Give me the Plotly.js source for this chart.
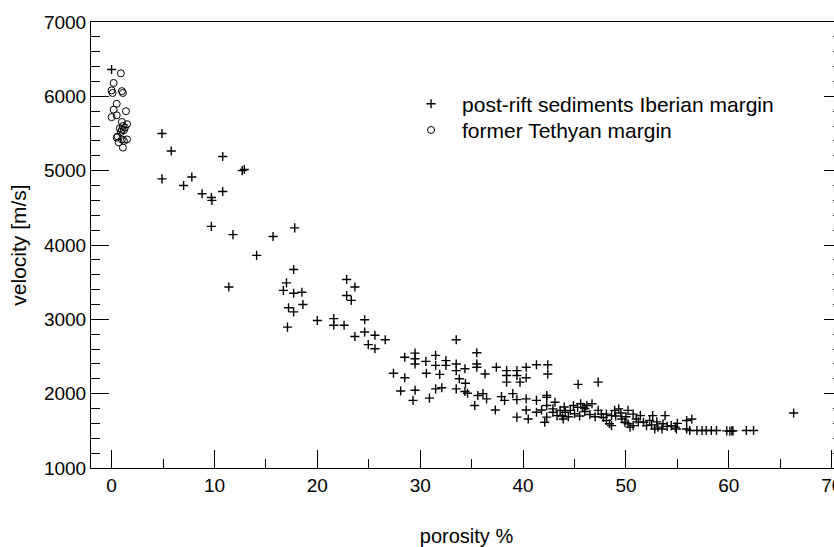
<!DOCTYPE html>
<html>
<head>
<meta charset="utf-8">
<script src="https://cdn.plot.ly/plotly-3.0.1.min.js"></script>
<style>
html,body{margin:0;padding:0;overflow:hidden;background:#fff;}
#chart{width:860px;height:547px;}
</style>
</head>
<body>
<div id="chart"></div>
<script>
// post-rift sediments Iberian margin (porosity %, velocity m/s)
const riftPorosity = [
  0.0, 4.9, 5.8, 10.8, 12.7, 12.9, 4.9, 7.8, 7.0, 8.8, 9.7, 9.75, 10.8, 9.7, 11.8, 15.7, 14.1, 11.4,
  17.8, 17.7, 17.0, 16.7, 17.7, 18.5, 18.6, 17.2, 17.7, 17.1, 20.0, 21.6, 21.6, 22.6, 22.85, 23.65,
  22.85, 23.3, 24.6, 23.65, 24.6, 25.6, 26.6, 24.95, 25.6,
  33.5, 28.5, 29.5, 29.5, 29.5, 30.55, 31.5, 31.5, 32.5, 32.5, 33.5, 34.35, 35.5, 35.5, 35.5, 36.3,
  37.4, 38.4, 39.4, 40.3, 41.3, 42.4, 42.4, 27.4, 28.5, 30.6, 31.9, 33.5, 33.8, 34.4, 38.4, 39.4,
  38.4, 39.7, 40.3, 28.1, 29.5, 29.3, 30.9, 31.5, 32.1, 33.5, 34.35, 34.6, 35.6, 36.1, 36.45, 35.3,
  37.3, 37.9, 38.2, 39.0, 39.4, 40.3, 41.3, 40.3, 40.5, 39.4, 42.3, 42.3, 42.3, 42.1, 41.3, 42.9, 43.1,
  45.35, 47.3, 42.3, 44.9, 45.3, 45.6, 45.8, 46.2, 46.7, 43.6, 44.1, 44.6, 42.9, 43.3,
  47.3, 47.6, 48.1, 48.6, 48.9, 49.3, 48.1, 48.4, 48.6,
  49.6, 49.9, 50.2, 50.4, 50.7, 51.0, 51.4, 50.2, 50.7,
  51.7, 52.0, 52.3, 52.8, 53.1, 53.5, 53.6, 53.8, 52.6,
  54.4, 54.8, 54.9, 55.9, 56.4, 55.9, 56.2, 56.9, 57.4, 57.8, 58.3, 58.8,
  59.8, 60.1, 60.3, 60.4, 61.7, 62.4, 66.3,
  43.8, 44.4, 45.0, 45.5, 46.0, 46.5, 47.0, 47.8, 44.0, 46.0, 49.0, 49.5, 50.0, 51.2, 52.5, 53.0, 54.0, 55.0, 41.8, 43.9
];
const riftVelocity = [
  6360, 5500, 5265, 5190, 5000, 5015, 4890, 4915, 4800, 4690, 4640, 4600, 4720, 4250, 4140, 4115, 3860, 3435,
  4230, 3670, 3490, 3390, 3350, 3365, 3200, 3155, 3100, 2895, 2985, 3010, 2920, 2920, 3535, 3435,
  3320, 3255, 2995, 2770, 2830, 2785, 2725, 2660, 2605,
  2725, 2490, 2545, 2470, 2400, 2435, 2515, 2380, 2445, 2380, 2400, 2335, 2550, 2400, 2355, 2265,
  2355, 2310, 2310, 2355, 2390, 2390, 2265, 2275, 2215, 2275, 2260, 2310, 2200, 2140, 2245, 2245,
  2155, 2155, 2215, 2035, 2045, 1910, 1940, 2065, 2080, 2065, 2030, 2005, 1975, 2000, 1930, 1840,
  1780, 1960, 1910, 2000, 1920, 1930, 1910, 1780, 1660, 1685, 1950, 1840, 1685, 1615, 1750, 1795, 1885,
  2125, 2155, 1975, 1840, 1815, 1865, 1815, 1840, 1865, 1775, 1750, 1775, 1750, 1705,
  1775, 1725, 1725, 1705, 1775, 1795, 1640, 1595, 1570,
  1660, 1615, 1595, 1550, 1570, 1660, 1705, 1775, 1725,
  1615, 1570, 1640, 1525, 1550, 1525, 1595, 1705, 1705,
  1570, 1550, 1525, 1640, 1660, 1525, 1505, 1505, 1505, 1505, 1505, 1505,
  1500, 1495, 1500, 1500, 1505, 1505, 1740,
  1700, 1690, 1730, 1700, 1760, 1720, 1690, 1680, 1820, 1800, 1700, 1740, 1690, 1620, 1580, 1620, 1560, 1600, 1780, 1660
];
// former Tethyan margin
const tethysPorosity = [0.2, 0.9, 0.0, 0.1, 1.0, 1.1, 0.5, 0.2, 1.4, 0.0, 0.5, 1.0, 1.5, 1.3, 0.8, 1.0, 1.2, 0.9, 1.1, 0.5, 1.0, 1.2, 1.5, 1.1, 0.6, 0.7];
const tethysVelocity = [6180, 6310, 6080, 6045, 6070, 6045, 5900, 5820, 5800, 5720, 5745, 5655, 5625, 5580, 5570, 5550, 5545, 5520, 5600, 5445, 5420, 5400, 5420, 5310, 5460, 5380];

const xTickVals = [0, 10, 20, 30, 40, 50, 60, 70];
const yTickVals = [1000, 2000, 3000, 4000, 5000, 6000, 7000];

const FONT = '"Liberation Sans", Arial, Helvetica, sans-serif';

const traces = [
  {
    type: 'scatter', mode: 'markers', name: 'post-rift sediments Iberian margin',
    x: riftPorosity, y: riftVelocity, legend: 'legend',
    marker: {symbol: 'cross-thin-open', size: 6.5, color: '#000', line: {color: '#000', width: 1.4}}
  },
  {
    type: 'scatter', mode: 'markers', name: 'former Tethyan margin',
    x: tethysPorosity, y: tethysVelocity, legend: 'legend2',
    marker: {symbol: 'circle-open', size: 7, color: '#000', line: {color: '#000', width: 1}}
  }
];

const legendBase = {
  xanchor: 'left', yanchor: 'top',
  bgcolor: 'rgba(0,0,0,0)', borderwidth: 0,
  font: {family: FONT, size: 21, color: '#000'},
  itemwidth: 52
};

const layout = {
  width: 860, height: 547,
  margin: {l: 91, r: 18, t: 22, b: 79},
  paper_bgcolor: '#fff', plot_bgcolor: '#fff',
  font: {family: FONT, color: '#000', size: 19},
  showlegend: true,
  legend: Object.assign({}, legendBase, {x: 0.4115, y: 0.862}),
  legend2: Object.assign({}, legendBase, {x: 0.4115, y: 0.803}),
  xaxis: {
    range: [-2, 71], showgrid: false, zeroline: false,
    showline: true, linecolor: '#000', linewidth: 1, mirror: true,
    ticks: 'inside', ticklen: 18, tickwidth: 1, tickcolor: '#000',
    tickvals: xTickVals, ticktext: xTickVals.map(String),
    minor: {dtick: 5, tick0: 0, ticks: 'inside', ticklen: 9, tickwidth: 1, tickcolor: '#000', showgrid: false},
    tickfont: {family: FONT, size: 19},
    title: {text: 'porosity %', font: {family: FONT, size: 20}, standoff: 38}
  },
  yaxis: {
    range: [1000, 7000], showgrid: false, zeroline: false,
    showline: true, linecolor: '#000', linewidth: 1, mirror: 'ticks',
    ticks: 'inside', ticklen: 18, tickwidth: 1, tickcolor: '#000',
    tickvals: yTickVals, ticktext: yTickVals.map(String),
    minor: {dtick: 200, tick0: 1000, ticks: 'inside', ticklen: 9, tickwidth: 1, tickcolor: '#000', showgrid: false},
    tickfont: {family: FONT, size: 19},
    title: {text: 'velocity [m/s]', font: {family: FONT, size: 21}, standoff: 11}
  }
};

Plotly.newPlot('chart', traces, layout, {displayModeBar: false, staticPlot: true});
</script>
</body>
</html>
